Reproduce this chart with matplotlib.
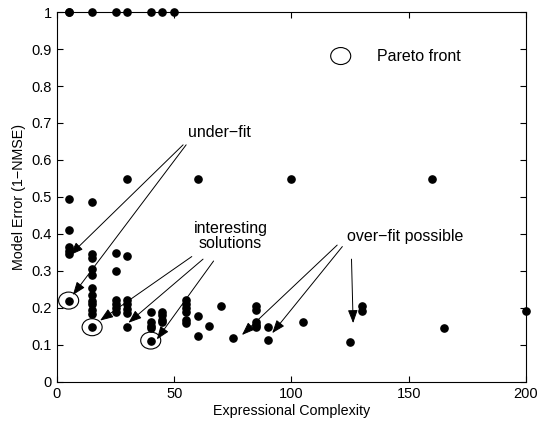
"""
Pareto front scatter: model error vs expressional complexity,
with under-fit / interesting / over-fit annotations.
"""

import matplotlib
matplotlib.use("Agg")
import matplotlib.pyplot as plt
from matplotlib.patches import Ellipse

# complexity (x) and model error (y) of every individual model
complexity = (
    [5] * 8 + [15] * 13 + [25] * 7 + [30] * 8 + [40] * 6 + [45] * 5 + [50]
    + [55] * 6 + [60] * 3 + [65, 70, 75] + [85] * 5 + [90] * 2
    + [100, 105, 125, 130, 130, 160, 165, 200]
)
model_error = (
    [1.0, 1.0, 0.495, 0.41, 0.365, 0.355, 0.345, 0.22]
    + [1.0, 0.487, 0.345, 0.335, 0.305, 0.288, 0.255, 0.235, 0.22, 0.21, 0.195, 0.185, 0.148]
    + [1.0, 0.348, 0.30, 0.222, 0.211, 0.20, 0.19]
    + [1.0, 0.548, 0.34, 0.222, 0.21, 0.196, 0.187, 0.148]
    + [1.0, 0.19, 0.161, 0.152, 0.145, 0.112]
    + [1.0, 0.19, 0.181, 0.168, 0.163]
    + [1.0]
    + [0.222, 0.211, 0.20, 0.19, 0.168, 0.159]
    + [0.548, 0.178, 0.124]
    + [0.15, 0.205, 0.118]
    + [0.205, 0.195, 0.163, 0.154, 0.148]
    + [0.148, 0.113]
    + [0.548, 0.163, 0.109, 0.205, 0.192, 0.548, 0.146, 0.192]
)

# Pareto-optimal models (circled)
pareto_x = [5, 15, 40]
pareto_y = [0.22, 0.148, 0.112]

x_ticks = [0, 50, 100, 150, 200]
y_ticks = [0, 0.1, 0.2, 0.3, 0.4, 0.5, 0.6, 0.7, 0.8, 0.9, 1]

plt.rcParams["font.family"] = ["Liberation Sans", "DejaVu Sans"]

fig = plt.figure(figsize=(5.37, 4.23), dpi=100)
ax = fig.add_axes([0.106, 0.097, 0.8735, 0.8746])

ax.plot(complexity, model_error, "o", color="black", markersize=5.2,
        linestyle="none", clip_on=False, zorder=3)

# ellipses of ~20x17 px around the Pareto points
ew, eh = 20 / 2.34, 17 / 370
for px, py in zip(pareto_x, pareto_y):
    ax.add_patch(Ellipse((px, py), ew, eh, fill=False, edgecolor="black", lw=0.8))

# legend-like marker
ax.add_patch(Ellipse((121, 0.881), ew, eh, fill=False, edgecolor="black", lw=0.8))
ax.text(136.5, 0.881, "Pareto front", fontsize=11.5, va="center", ha="left")

arrow = dict(arrowstyle="-|>,head_length=0.8,head_width=0.3", color="black",
             lw=0.7, mutation_scale=10, shrinkA=0, shrinkB=0)

ax.text(69.5, 0.673, "under\u2212fit", fontsize=11.5, ha="center", va="center")
for start, end in [((53.8, 0.641), (5.6, 0.343)), ((55.1, 0.641), (6.8, 0.235))]:
    ax.annotate("", xy=end, xytext=start, arrowprops=arrow)

ax.text(74, 0.395, "interesting\nsolutions", fontsize=11.5, ha="center", va="center",
        linespacing=1.0)
for start, end in [((57.5, 0.339), (18.4, 0.166)),
                   ((62.3, 0.332), (30.5, 0.160)),
                   ((66.8, 0.327), (42.6, 0.115))]:
    ax.annotate("", xy=end, xytext=start, arrowprops=arrow)

ax.text(148.7, 0.393, "over\u2212fit possible", fontsize=11.5, ha="center", va="center")
for start, end in [((119.5, 0.370), (78.9, 0.127)),
                   ((121.7, 0.366), (91.8, 0.132)),
                   ((125.6, 0.332), (126.3, 0.159))]:
    ax.annotate("", xy=end, xytext=start, arrowprops=arrow)

ax.set_xlim(0, 200)
ax.set_ylim(0, 1)
ax.set_xticks(x_ticks)
ax.set_yticks(y_ticks)
ax.set_yticklabels(["0", "0.1", "0.2", "0.3", "0.4", "0.5", "0.6", "0.7", "0.8", "0.9", "1"])
ax.tick_params(direction="in", top=True, right=True, labelsize=10.5, length=4, width=0.8)
for spine in ax.spines.values():
    spine.set_linewidth(0.8)
ax.set_xlabel("Expressional Complexity", fontsize=10.3, labelpad=2)
ax.set_ylabel("Model Error (1\u2212NMSE)", fontsize=10.3, labelpad=4)

fig.savefig("out.png", dpi=100)
plt.close(fig)
